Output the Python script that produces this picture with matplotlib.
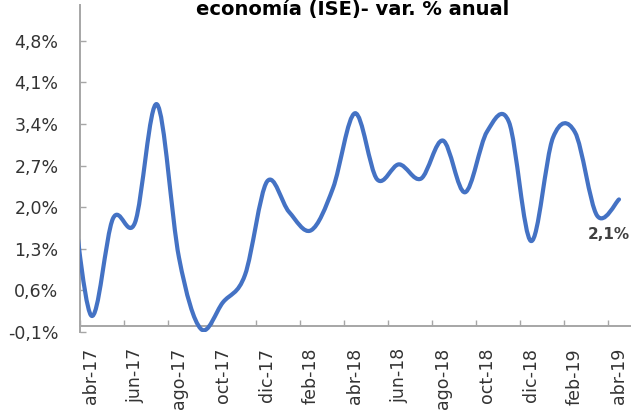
import numpy as np
import matplotlib
matplotlib.use("Agg")
from matplotlib import pyplot as plt
from matplotlib.path import Path
from matplotlib.patches import PathPatch

# ISE var. % anual (mar-17 queda fuera del eje, solo da la entrada de la curva)
meses = ["mar-17", "abr-17", "may-17", "jun-17", "jul-17", "ago-17", "sep-17",
         "oct-17", "nov-17", "dic-17", "ene-18", "feb-18", "mar-18", "abr-18",
         "may-18", "jun-18", "jul-18", "ago-18", "sep-18", "oct-18", "nov-18",
         "dic-18", "ene-19", "feb-19", "mar-19", "abr-19"]
ise = [2.75, 0.18, 1.81, 1.74, 3.73, 1.15, -0.05, 0.40, 0.86, 2.43, 1.92, 1.61,
       2.32, 3.58, 2.47, 2.72, 2.48, 3.12, 2.25, 3.27, 3.43, 1.43, 3.17, 3.26,
       1.86, 2.13]
yticks = [-0.1, 0.6, 1.3, 2.0, 2.7, 3.4, 4.1, 4.8]

azul = "#4472C4"
gris = "#A6A6A6"
texto = "#333333"

x = np.arange(len(ise)) - 1  # abr-17 = 0
y = np.array(ise)

# linea suavizada tipo excel (bezier catmull-rom)
px = np.r_[x[0], x, x[-1]]
py = np.r_[y[0], y, y[-1]]
verts = [(px[1], py[1])]
codes = [Path.MOVETO]
for i in range(1, len(px) - 2):
    c1 = (px[i] + (px[i+1] - px[i-1]) / 6, py[i] + (py[i+1] - py[i-1]) / 6)
    c2 = (px[i+1] - (px[i+2] - px[i]) / 6, py[i+1] - (py[i+2] - py[i]) / 6)
    verts += [c1, c2, (px[i+1], py[i+1])]
    codes += [Path.CURVE4] * 3

fig = plt.figure(figsize=(6.31, 4.12), dpi=100)
ax = fig.add_axes([80/631, 80/412, 550/631, 327/412])
ax.add_patch(PathPatch(Path(verts, codes), fill=False, edgecolor=azul, lw=3,
                       capstyle="round", joinstyle="round", zorder=3))

ax.set_xlim(-0.5, 24.5)
ax.set_ylim(-0.1, -0.1 + 327/59.45)

ax.spines["top"].set_visible(False)
ax.spines["right"].set_visible(False)
ax.spines["bottom"].set_position(("data", 0))
for s in ["left", "bottom"]:
    ax.spines[s].set_color(gris)
    ax.spines[s].set_linewidth(1.4)

ax.set_yticks(yticks)
ax.set_yticklabels([f"{v:.1f}%".replace(".", ",") for v in yticks])
ax.tick_params(axis="y", direction="in", length=4.3, width=1, color=gris,
               labelcolor=texto, labelsize=12.5, pad=15.5)

ax.set_xticks(x[1::2])
ax.set_xticklabels(meses[1::2], rotation=90, va="top", ha="center")
ax.set_xticks(np.arange(-0.5, 24, 2), minor=True)
ax.tick_params(axis="x", which="major", length=0, labelcolor=texto,
               labelsize=12.5, pad=15.8)
ax.tick_params(axis="x", which="minor", direction="in", length=4.3, width=1,
               color=gris)

ax.annotate("2,1%", (x[-1], y[-1]), xytext=(-7, -25), textcoords="offset points",
            ha="center", va="center", fontweight="bold", fontsize=11,
            color="#404040")

fig.text(353/631, 1 - 15/412, "economía (ISE)- var. % anual", ha="center",
         va="baseline", fontweight="bold", fontsize=14, color="black")

fig.savefig("out.png", dpi=100)
